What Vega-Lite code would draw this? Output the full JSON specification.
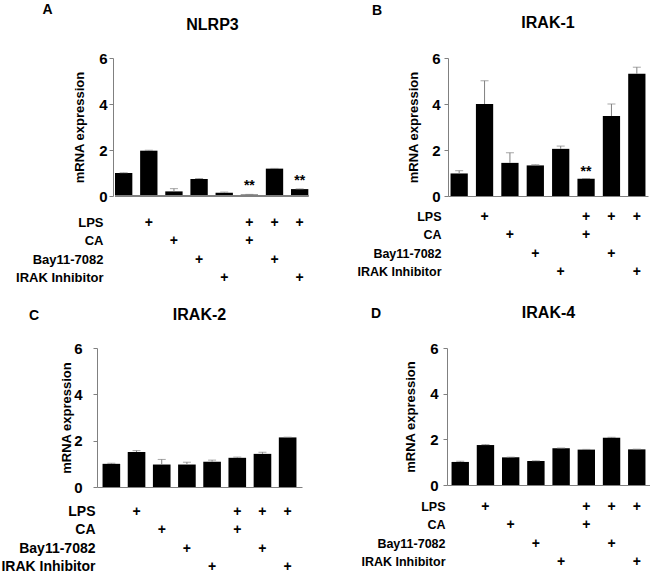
{
  "$schema": "https://vega.github.io/schema/vega-lite/v6.json",
  "background": "white",
  "padding": {"left": 0, "top": 3, "right": 0, "bottom": 0},
  "config": {
    "font": "Liberation Sans",
    "view": {"stroke": null},
    "title": {"color": "black", "fontWeight": "bold"}
  },
  "datasets": {
    "bars": [
      {"panel": "A", "group": 1, "value": 1.0, "upper": 1.01, "sig": false},
      {"panel": "A", "group": 2, "value": 1.97, "upper": 1.99, "sig": false},
      {"panel": "A", "group": 3, "value": 0.2, "upper": 0.32, "sig": false},
      {"panel": "A", "group": 4, "value": 0.74, "upper": 0.76, "sig": false},
      {"panel": "A", "group": 5, "value": 0.14, "upper": 0.17, "sig": false},
      {"panel": "A", "group": 6, "value": 0.06, "upper": 0.07, "sig": true},
      {"panel": "A", "group": 7, "value": 1.19, "upper": 1.2, "sig": false},
      {"panel": "A", "group": 8, "value": 0.3, "upper": 0.31, "sig": true},
      {"panel": "B", "group": 1, "value": 0.98, "upper": 1.1, "sig": false},
      {"panel": "B", "group": 2, "value": 4.0, "upper": 5.01, "sig": false},
      {"panel": "B", "group": 3, "value": 1.44, "upper": 1.88, "sig": false},
      {"panel": "B", "group": 4, "value": 1.33, "upper": 1.36, "sig": false},
      {"panel": "B", "group": 5, "value": 2.05, "upper": 2.17, "sig": false},
      {"panel": "B", "group": 6, "value": 0.75, "upper": 0.76, "sig": true},
      {"panel": "B", "group": 7, "value": 3.48, "upper": 4.0, "sig": false},
      {"panel": "B", "group": 8, "value": 5.31, "upper": 5.6, "sig": false},
      {"panel": "C", "group": 1, "value": 1.0, "upper": 1.03, "sig": false},
      {"panel": "C", "group": 2, "value": 1.51, "upper": 1.57, "sig": false},
      {"panel": "C", "group": 3, "value": 0.97, "upper": 1.19, "sig": false},
      {"panel": "C", "group": 4, "value": 0.97, "upper": 1.07, "sig": false},
      {"panel": "C", "group": 5, "value": 1.09, "upper": 1.16, "sig": false},
      {"panel": "C", "group": 6, "value": 1.26, "upper": 1.29, "sig": false},
      {"panel": "C", "group": 7, "value": 1.43, "upper": 1.5, "sig": false},
      {"panel": "C", "group": 8, "value": 2.14, "upper": 2.15, "sig": false},
      {"panel": "D", "group": 1, "value": 1.01, "upper": 1.04, "sig": false},
      {"panel": "D", "group": 2, "value": 1.75, "upper": 1.77, "sig": false},
      {"panel": "D", "group": 3, "value": 1.21, "upper": 1.22, "sig": false},
      {"panel": "D", "group": 4, "value": 1.05, "upper": 1.06, "sig": false},
      {"panel": "D", "group": 5, "value": 1.61, "upper": 1.62, "sig": false},
      {"panel": "D", "group": 6, "value": 1.55, "upper": 1.56, "sig": false},
      {"panel": "D", "group": 7, "value": 2.07, "upper": 2.09, "sig": false},
      {"panel": "D", "group": 8, "value": 1.56, "upper": 1.57, "sig": false}
    ],
    "trt": [
      {"group": 2, "treatment": "LPS"},
      {"group": 3, "treatment": "CA"},
      {"group": 4, "treatment": "Bay11-7082"},
      {"group": 5, "treatment": "IRAK Inhibitor"},
      {"group": 6, "treatment": "LPS"},
      {"group": 6, "treatment": "CA"},
      {"group": 7, "treatment": "LPS"},
      {"group": 7, "treatment": "Bay11-7082"},
      {"group": 8, "treatment": "LPS"},
      {"group": 8, "treatment": "IRAK Inhibitor"}
    ]
  },
  "spacing": 18,
  "vconcat": [
    {
      "spacing": 44,
      "hconcat": [
        {
          "title": {"text": "A", "anchor": "start", "fontSize": 14, "dx": 27, "offset": 0},
          "spacing": 10,
          "vconcat": [
            {
              "width": 215, "height": 138,
              "title": {"text": "NLRP3", "fontSize": 16, "offset": 18, "dx": 8},
              "data": {"name": "bars"},
              "transform": [{"filter": "datum.panel === 'A'"}],
              "encoding": {"x": {"field": "group", "type": "ordinal", "scale": {"type": "band", "paddingInner": 0.31, "paddingOuter": 0.431, "align": 0.83}, "axis": {"labels": false, "ticks": false, "domain": false, "title": null}}},
              "layer": [
                {"mark": {"type": "bar", "color": "black"},
                 "encoding": {"y": {"field": "value", "type": "quantitative", "scale": {"domain": [0, 6], "nice": false},
                   "axis": {"values": [0, 2, 4, 6], "offset": -16, "grid": false, "domainColor": "#808080", "tickColor": "#808080", "tickSize": 4, "labelPadding": 2, "labelFontSize": 15, "labelFontWeight": "bold", "labelColor": "black", "title": "mRNA expression", "titleFontSize": 13, "titleFontWeight": "bold", "titleColor": "black", "titlePadding": 12}}}},
                {"mark": {"type": "rule", "color": "#808080"}, "encoding": {"x": {"datum": 1, "type": "ordinal", "bandPosition": 0}, "x2": {"datum": 8, "bandPosition": 1}, "y": {"datum": 0, "type": "quantitative"}}},
                {"mark": {"type": "rule", "color": "#808080"}, "encoding": {"y": {"field": "value", "type": "quantitative"}, "y2": {"field": "upper"}}},
                {"mark": {"type": "tick", "color": "#808080", "size": 8, "thickness": 1}, "encoding": {"y": {"field": "upper", "type": "quantitative"}}},
                {"transform": [{"filter": "datum.sig"}], "mark": {"type": "text", "text": "**", "fontSize": 14, "fontWeight": "bold", "baseline": "alphabetic", "dy": -4, "color": "black"}, "encoding": {"y": {"field": "upper", "type": "quantitative"}}}
              ]
            },
            {
              "width": 215, "height": 73,
              "data": {"name": "trt"},
              "mark": {"type": "text", "text": "+", "fontSize": 14, "fontWeight": "bold", "baseline": "middle", "color": "black"},
              "encoding": {
                "x": {"field": "group", "type": "ordinal", "scale": {"type": "band", "domain": [1, 2, 3, 4, 5, 6, 7, 8], "paddingInner": 0.31, "paddingOuter": 0.431, "align": 0.83}, "axis": null},
                "y": {"field": "treatment", "type": "nominal", "scale": {"type": "band", "domain": ["LPS", "CA", "Bay11-7082", "IRAK Inhibitor"], "paddingInner": 0, "paddingOuter": 0},
                  "axis": {"title": null, "domain": false, "ticks": false, "offset": -8, "labelFontSize": 13, "labelFontWeight": "bold", "labelColor": "black", "labelPadding": 2}}
              }
            }
          ]
        },
        {
          "title": {"text": "B", "anchor": "start", "fontSize": 14, "dx": 15, "offset": -3},
          "spacing": 4,
          "vconcat": [
            {
              "width": 200, "height": 138,
              "title": {"text": "IRAK-1", "fontSize": 16, "offset": 20},
              "data": {"name": "bars"},
              "transform": [{"filter": "datum.panel === 'B'"}],
              "encoding": {"x": {"field": "group", "type": "ordinal", "scale": {"type": "band", "paddingInner": 0.32, "paddingOuter": 0.1}, "axis": {"labels": false, "ticks": false, "title": null, "domainColor": "#808080"}}},
              "layer": [
                {"mark": {"type": "bar", "color": "black"},
                 "encoding": {"y": {"field": "value", "type": "quantitative", "scale": {"domain": [0, 6], "nice": false},
                   "axis": {"values": [0, 2, 4, 6], "grid": false, "domainColor": "#808080", "tickColor": "#808080", "tickSize": 4, "labelPadding": 4, "labelFontSize": 15, "labelFontWeight": "bold", "labelColor": "black", "title": "mRNA expression", "titleFontSize": 13, "titleFontWeight": "bold", "titleColor": "black", "titlePadding": 11}}}},
                {"mark": {"type": "rule", "color": "#808080"}, "encoding": {"y": {"field": "value", "type": "quantitative"}, "y2": {"field": "upper"}}},
                {"mark": {"type": "tick", "color": "#808080", "size": 8, "thickness": 1}, "encoding": {"y": {"field": "upper", "type": "quantitative"}}},
                {"transform": [{"filter": "datum.sig"}], "mark": {"type": "text", "text": "**", "fontSize": 14, "fontWeight": "bold", "baseline": "alphabetic", "dy": -3, "color": "black"}, "encoding": {"y": {"field": "upper", "type": "quantitative"}}}
              ]
            },
            {
              "width": 200, "height": 73,
              "data": {"name": "trt"},
              "mark": {"type": "text", "text": "+", "fontSize": 14, "fontWeight": "bold", "baseline": "middle", "color": "black"},
              "encoding": {
                "x": {"field": "group", "type": "ordinal", "scale": {"type": "band", "domain": [1, 2, 3, 4, 5, 6, 7, 8], "paddingInner": 0.32, "paddingOuter": 0.1}, "axis": null},
                "y": {"field": "treatment", "type": "nominal", "scale": {"type": "band", "domain": ["LPS", "CA", "Bay11-7082", "IRAK Inhibitor"], "paddingInner": 0, "paddingOuter": 0},
                  "axis": {"title": null, "domain": false, "ticks": false, "labelFontSize": 12.5, "labelFontWeight": "bold", "labelColor": "black", "labelPadding": 7}}
              }
            }
          ]
        }
      ]
    },
    {
      "spacing": 58,
      "hconcat": [
        {
          "title": {"text": "C", "anchor": "start", "fontSize": 14, "dx": 28, "offset": -16},
          "spacing": 8,
          "vconcat": [
            {
              "width": 205, "height": 139,
              "title": {"text": "IRAK-2", "fontSize": 16, "offset": 18},
              "data": {"name": "bars"},
              "transform": [{"filter": "datum.panel === 'C'"}],
              "encoding": {"x": {"field": "group", "type": "ordinal", "scale": {"type": "band", "paddingInner": 0.3, "paddingOuter": 0.22}, "axis": {"labels": false, "ticks": false, "title": null, "domainColor": "#808080"}}},
              "layer": [
                {"mark": {"type": "bar", "color": "black"},
                 "encoding": {"y": {"field": "value", "type": "quantitative", "scale": {"domain": [0, 6], "nice": false},
                   "axis": {"values": [0, 2, 4, 6], "grid": false, "domainColor": "#808080", "tickColor": "#808080", "tickSize": 4, "labelPadding": 11, "labelFontSize": 15, "labelFontWeight": "bold", "labelColor": "black", "title": "mRNA expression", "titleFontSize": 13, "titleFontWeight": "bold", "titleColor": "black", "titlePadding": 0}}}},
                {"mark": {"type": "rule", "color": "#808080"}, "encoding": {"y": {"field": "value", "type": "quantitative"}, "y2": {"field": "upper"}}},
                {"mark": {"type": "tick", "color": "#808080", "size": 8, "thickness": 1}, "encoding": {"y": {"field": "upper", "type": "quantitative"}}}
              ]
            },
            {
              "width": 205, "height": 73,
              "data": {"name": "trt"},
              "mark": {"type": "text", "text": "+", "fontSize": 14, "fontWeight": "bold", "baseline": "middle", "color": "black"},
              "encoding": {
                "x": {"field": "group", "type": "ordinal", "scale": {"type": "band", "domain": [1, 2, 3, 4, 5, 6, 7, 8], "paddingInner": 0.3, "paddingOuter": 0.22}, "axis": null},
                "y": {"field": "treatment", "type": "nominal", "scale": {"type": "band", "domain": ["LPS", "CA", "Bay11-7082", "IRAK Inhibitor"], "paddingInner": 0, "paddingOuter": 0},
                  "axis": {"title": null, "domain": false, "ticks": false, "labelFontSize": 14, "labelFontWeight": "bold", "labelColor": "black", "labelPadding": 2}}
              }
            }
          ]
        },
        {
          "title": {"text": "D", "anchor": "start", "fontSize": 14, "dx": 10, "offset": -16},
          "spacing": 5,
          "vconcat": [
            {
              "width": 203, "height": 137,
              "title": {"text": "IRAK-4", "fontSize": 16, "offset": 20},
              "data": {"name": "bars"},
              "transform": [{"filter": "datum.panel === 'D'"}],
              "encoding": {"x": {"field": "group", "type": "ordinal", "scale": {"type": "band", "paddingInner": 0.31, "paddingOuter": 0.18}, "axis": {"labels": false, "ticks": false, "title": null, "domainColor": "#808080"}}},
              "layer": [
                {"mark": {"type": "bar", "color": "black"},
                 "encoding": {"y": {"field": "value", "type": "quantitative", "scale": {"domain": [0, 6], "nice": false},
                   "axis": {"values": [0, 2, 4, 6], "grid": false, "domainColor": "#808080", "tickColor": "#808080", "tickSize": 4, "labelPadding": 5, "labelFontSize": 15, "labelFontWeight": "bold", "labelColor": "black", "title": "mRNA expression", "titleFontSize": 13, "titleFontWeight": "bold", "titleColor": "black", "titlePadding": 12}}}},
                {"mark": {"type": "rule", "color": "#808080"}, "encoding": {"y": {"field": "value", "type": "quantitative"}, "y2": {"field": "upper"}}},
                {"mark": {"type": "tick", "color": "#808080", "size": 8, "thickness": 1}, "encoding": {"y": {"field": "upper", "type": "quantitative"}}}
              ]
            },
            {
              "width": 203, "height": 73,
              "data": {"name": "trt"},
              "mark": {"type": "text", "text": "+", "fontSize": 14, "fontWeight": "bold", "baseline": "middle", "color": "black"},
              "encoding": {
                "x": {"field": "group", "type": "ordinal", "scale": {"type": "band", "domain": [1, 2, 3, 4, 5, 6, 7, 8], "paddingInner": 0.31, "paddingOuter": 0.18}, "axis": null},
                "y": {"field": "treatment", "type": "nominal", "scale": {"type": "band", "domain": ["LPS", "CA", "Bay11-7082", "IRAK Inhibitor"], "paddingInner": 0, "paddingOuter": 0},
                  "axis": {"title": null, "domain": false, "ticks": false, "labelFontSize": 12.5, "labelFontWeight": "bold", "labelColor": "black", "labelPadding": 2}}
              }
            }
          ]
        }
      ]
    }
  ]
}
